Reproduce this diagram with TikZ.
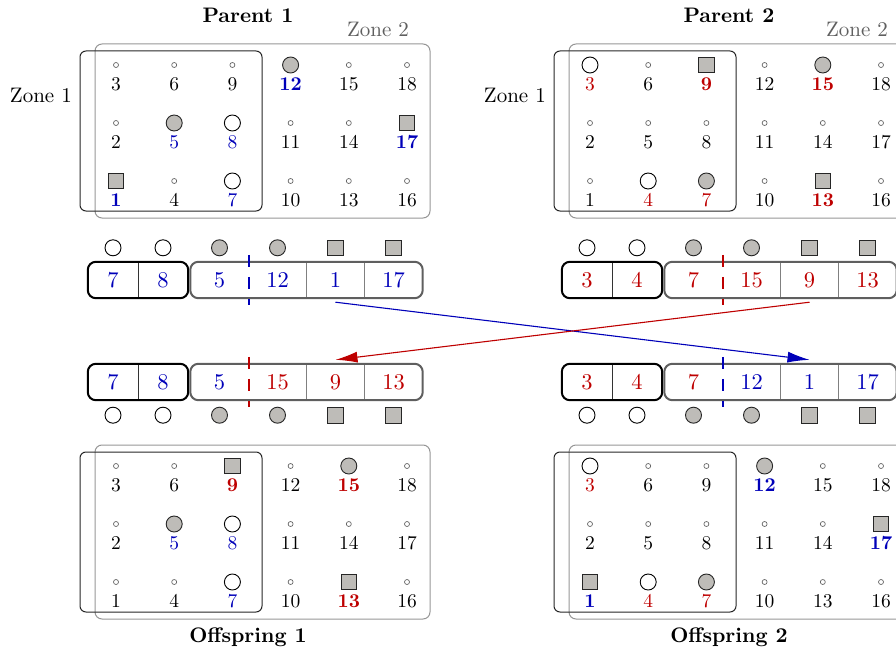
\documentclass[tikz,border=0pt]{standalone}
\usepackage{fontspec}
\setmainfont{lmroman10-regular.otf}[BoldFont=lmroman10-bold.otf]
\usetikzlibrary{arrows.meta}
\definecolor{myblue}{RGB}{0,0,185}
\definecolor{myred}{RGB}{190,0,0}
\definecolor{symfill}{RGB}{190,188,184}
\definecolor{zonetwo}{RGB}{150,150,150}
\definecolor{boxgray}{RGB}{95,95,95}
\definecolor{labgray}{RGB}{95,95,95}
\newcommand\Bl[1]{\textcolor{myblue}{#1}}
\newcommand\Rd[1]{\textcolor{myred}{#1}}
\tikzset{
  smallsym/.style={circle,draw=black!60,line width=0.7pt,inner sep=0pt,minimum size=5pt},
  wsym/.style={circle,draw=black,fill=white,line width=0.9pt,inner sep=0pt,minimum size=16pt},
  gsym/.style={circle,draw=black!85,fill=symfill,line width=0.9pt,inner sep=0pt,minimum size=16pt},
  qsym/.style={rectangle,draw=black!85,fill=symfill,line width=0.9pt,inner sep=0pt,minimum size=15.5pt},
  gridnum/.style={inner sep=0pt,font=\fontsize{19.5}{20}\selectfont},
  kn/.style={text=black},
  bb/.style={text=myblue,font=\fontsize{19.5}{20}\selectfont\bfseries},
  br/.style={text=myblue},
  rb/.style={text=myred,font=\fontsize{19.5}{20}\selectfont\bfseries},
  rr/.style={text=myred},
  zoneone/.style={draw=black!85,line width=1pt,rounded corners=6pt},
  zonetwobox/.style={draw=zonetwo,line width=1pt,rounded corners=7pt},
  zonelab/.style={inner sep=0pt,font=\fontsize{21}{22}\selectfont},
  titlelab/.style={inner sep=0pt,font=\fontsize{21}{22}\selectfont\bfseries},
  cellA/.style={rectangle,inner sep=0pt,minimum width=50pt,minimum height=36pt,font=\fontsize{22.5}{24}\selectfont},
  cellB/.style={rectangle,inner sep=0pt,minimum width=58pt,minimum height=36pt,font=\fontsize{22.5}{24}\selectfont},
  chromone/.style={draw=black,line width=2pt,rounded corners=8pt},
  chromtwo/.style={draw=boxgray,line width=2pt,rounded corners=8pt},
  divone/.style={draw=black!80,line width=0.8pt},
  divtwo/.style={draw=black!50,line width=0.8pt},
  cutline/.style={line width=2pt,dash pattern=on 12pt off 10pt},
  crossarrow/.style={line width=1.1pt,-{Latex[length=22pt,width=11pt]}}
}
\newcommand\drawgrid[4]{%
  \draw[zonetwobox] (#2+95,#3+44) rectangle (#2+430,#3+218);
  \draw[zoneone] (#2+80,#3+51) rectangle (#2+262,#3+211);
  \foreach \n/\sy/\st in {#4}{%
    \pgfmathtruncatemacro\cc{(\n-1)/3}%
    \pgfmathtruncatemacro\rr{2-mod(\n-1,3)}%
    \pgfmathsetmacro\xx{#2+116+58.2*\cc}%
    \pgfmathsetmacro\ys{#3+65+58*\rr}%
    \pgfmathsetmacro\yn{#3+84+58*\rr}%
    \node[\sy] (#1s\n) at (\xx,\ys) {};
    \node[gridnum,\st] (#1n\n) at (\xx,\yn) {\n};
  }%
}
\newcommand\chromo[9]{%
  \node[cellA] (#1a) at (#2+113,#3) {#4};
  \node[cellA] (#1b) at (#2+163,#3) {#5};
  \node[cellB] (#1c) at (#2+219.5,#3) {#6};
  \node[cellB] (#1d) at (#2+277.5,#3) {#7};
  \node[cellB] (#1e) at (#2+335.5,#3) {#8};
  \node[cellB] (#1f) at (#2+393.5,#3) {#9};
  \draw[divone] (#1a.north east) -- (#1a.south east);
  \draw[divtwo] (#1d.north east) -- (#1d.south east);
  \draw[divtwo] (#1e.north east) -- (#1e.south east);
  \draw[chromone] (#1a.north west) rectangle (#1b.south east);
  \draw[chromtwo] (#1c.north west) rectangle (#1f.south east);
}
\newcommand\chromsyms[3]{%
  \foreach \c/\sy in {a/wsym,b/wsym,c/gsym,d/gsym,e/qsym,f/qsym}{%
    \node[\sy] (#1y\c) at ([yshift=#3]#1\c.#2) {};
  }%
}
\begin{document}
\begin{tikzpicture}[x=1pt,y=-1pt]
\useasboundingbox (0,0) rectangle (896,655);
% titles and labels
\node[titlelab] (tP1) at (248,15) {Parent 1};
\node[titlelab] (tP2) at (729,15) {Parent 2};
\node[titlelab] (tO1) at (248,637) {Offspring 1};
\node[titlelab] (tO2) at (729,637) {Offspring 2};
\node[zonelab,anchor=east] (zP1a) at (72,95) {Zone 1};
\node[zonelab,anchor=east] (zP2a) at (546,95) {Zone 1};
\node[zonelab,text=labgray] (zP1b) at (378,29) {Zone 2};
\node[zonelab,text=labgray] (zP2b) at (857,29) {Zone 2};
% grids
\drawgrid{P}{0}{0}{1/qsym/bb,2/smallsym/kn,3/smallsym/kn,4/smallsym/kn,5/gsym/br,6/smallsym/kn,7/wsym/br,8/wsym/br,9/smallsym/kn,10/smallsym/kn,11/smallsym/kn,12/gsym/bb,13/smallsym/kn,14/smallsym/kn,15/smallsym/kn,16/smallsym/kn,17/qsym/bb,18/smallsym/kn}
\drawgrid{Q}{474}{0}{1/smallsym/kn,2/smallsym/kn,3/wsym/rr,4/wsym/rr,5/smallsym/kn,6/smallsym/kn,7/gsym/rr,8/smallsym/kn,9/qsym/rb,10/smallsym/kn,11/smallsym/kn,12/smallsym/kn,13/qsym/rb,14/smallsym/kn,15/gsym/rb,16/smallsym/kn,17/smallsym/kn,18/smallsym/kn}
\drawgrid{O}{0}{401}{1/smallsym/kn,2/smallsym/kn,3/smallsym/kn,4/smallsym/kn,5/gsym/br,6/smallsym/kn,7/wsym/br,8/wsym/br,9/qsym/rb,10/smallsym/kn,11/smallsym/kn,12/smallsym/kn,13/qsym/rb,14/smallsym/kn,15/gsym/rb,16/smallsym/kn,17/smallsym/kn,18/smallsym/kn}
\drawgrid{R}{474}{401}{1/qsym/bb,2/smallsym/kn,3/wsym/rr,4/wsym/rr,5/smallsym/kn,6/smallsym/kn,7/gsym/rr,8/smallsym/kn,9/smallsym/kn,10/smallsym/kn,11/smallsym/kn,12/gsym/bb,13/smallsym/kn,14/smallsym/kn,15/smallsym/kn,16/smallsym/kn,17/qsym/bb,18/smallsym/kn}
% chromosomes
\chromo{A}{0}{280}{\Bl{7}}{\Bl{8}}{\Bl{5}}{\Bl{12}}{\Bl{1}}{\Bl{17}}
\chromo{B}{474}{280}{\Rd{3}}{\Rd{4}}{\Rd{7}}{\Rd{15}}{\Rd{9}}{\Rd{13}}
\chromo{C}{0}{382}{\Bl{7}}{\Bl{8}}{\Bl{5}}{\Rd{15}}{\Rd{9}}{\Rd{13}}
\chromo{D}{474}{382}{\Rd{3}}{\Rd{4}}{\Rd{7}}{\Bl{12}}{\Bl{1}}{\Bl{17}}
\chromsyms{A}{north}{14pt}
\chromsyms{B}{north}{14pt}
\chromsyms{C}{south}{-15pt}
\chromsyms{D}{south}{-15pt}
% cut points
\draw[cutline,myblue] ([yshift=7pt]Ac.north east) -- ([yshift=-7pt]Ac.south east);
\draw[cutline,myred] ([yshift=7pt]Bc.north east) -- ([yshift=-7pt]Bc.south east);
\draw[cutline,myred] ([yshift=7pt]Cc.north east) -- ([yshift=-7pt]Cc.south east);
\draw[cutline,myblue] ([yshift=7pt]Dc.north east) -- ([yshift=-7pt]Dc.south east);
% crossover arrows
\draw[crossarrow,myblue] ([yshift=-4pt]Ae.south) -- ([yshift=4pt]De.north);
\draw[crossarrow,myred] ([yshift=-4pt]Be.south) -- ([yshift=4pt]Ce.north);
\end{tikzpicture}
\end{document}
